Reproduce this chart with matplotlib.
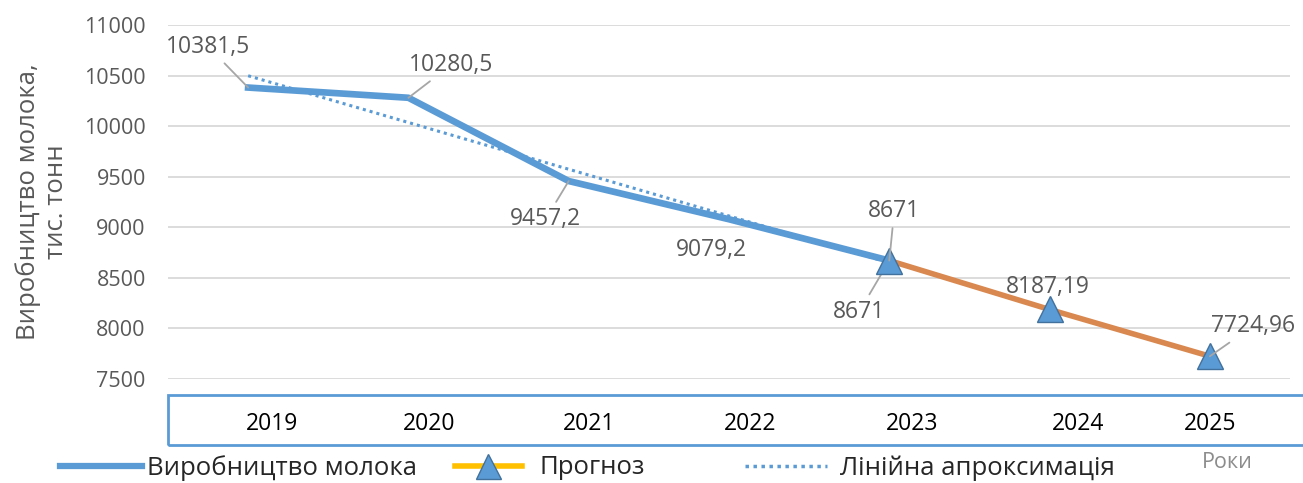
import numpy as np
import matplotlib
matplotlib.use("Agg")
import matplotlib.pyplot as plt
import matplotlib.transforms as mtransforms
from matplotlib.lines import Line2D
from matplotlib.patches import Rectangle

years = ["2019", "2020", "2021", "2022", "2023", "2024", "2025"]
actual = [10381.5, 10280.5, 9457.2, 9079.2, 8671]
forecast = [8671, 8187.19, 7724.96]
actual_labels = ["10381,5", "10280,5", "9457,2", "9079,2", "8671"]
forecast_labels = ["8671", "8187,19", "7724,96"]

BLUE = "#5B9BD5"
ORANGE = "#D9884F"
GRAY = "#595959"

plt.rcParams["font.family"] = ["Open Sans", "DejaVu Sans"]

fig = plt.figure(figsize=(13.03, 4.83), dpi=100)
ax = fig.add_axes([168 / 1303, 1 - 379 / 483, (1290 - 168) / 1303, (379 - 25) / 483])

x_act = np.arange(len(actual))
x_fc = np.arange(len(actual) - 1, len(actual) - 1 + len(forecast))

# linear trend over actual data
k, b = np.polyfit(x_act, actual, 1)
trend = k * x_act + b

ax.plot(x_act, actual, color=BLUE, lw=4.8, solid_joinstyle="round", zorder=3)
ax.plot(x_fc, forecast, color=ORANGE, lw=4, zorder=3)
ax.plot(x_act, trend, color=BLUE, lw=2.2, ls=(0, (1, 1.3)), zorder=4)
ax.plot(x_fc, forecast, ls="none", marker="^", ms=19, mfc=BLUE, mec="#41719C",
        mew=1, zorder=5)

ax.set_xlim(-0.5, len(years) - 0.5)
ax.set_ylim(7500, 11000)
ax.set_yticks(np.arange(7500, 11001, 500))
ax.grid(axis="y", color="#D9D9D9", lw=1.3)
ax.set_axisbelow(True)
for s in ax.spines.values():
    s.set_visible(False)
ax.tick_params(axis="y", length=0, pad=16, labelsize=15.5, labelcolor=GRAY)
ax.set_xticks(range(len(years)))
ax.set_xticklabels(years)
ax.tick_params(axis="x", length=0, pad=24, labelsize=16.5, labelcolor="black")
shifts = [24, 21, 20, 21, 23, 28, 0]
for lab, dx in zip(ax.get_xticklabels(), shifts):
    lab.set_transform(lab.get_transform() +
                      mtransforms.ScaledTranslation(dx / 100, 0, fig.dpi_scale_trans))

ax.set_ylabel("Виробництво молока,\nтис. тонн", fontsize=18.5, color=GRAY,
              linespacing=1.15)
ax.yaxis.set_label_coords(-0.088, 0.5)

# data labels (offsets in pixels from the point)
ann = [(-40, 41, True), (43, 33, True), (-23, -38, True), (-18, -31, False), (-30, -51, True)]
for i, (v, t, (dx, dy, lead)) in enumerate(zip(actual, actual_labels, ann)):
    ax.annotate(t, (i, v), xytext=(dx * 0.72, dy * 0.72), textcoords="offset points",
                ha="center", va="center", fontsize=16.5, color=GRAY,
                arrowprops=dict(arrowstyle="-", color="#A6A6A6", lw=1.3,
                                shrinkA=2, shrinkB=0) if lead else None)
ann_fc = [(5, 50, True), (-2, 22, False), (43, 30, True)]
for i, v, t, (dx, dy, lead) in zip(x_fc, forecast, forecast_labels, ann_fc):
    ax.annotate(t, (i, v), xytext=(dx * 0.72, dy * 0.72), textcoords="offset points",
                ha="center", va="center", fontsize=16.5, color=GRAY, zorder=6,
                arrowprops=dict(arrowstyle="-", color="#A6A6A6", lw=1.3,
                                shrinkA=2, shrinkB=0) if lead else None)

# box around the category axis
fig.patches.append(Rectangle((168 / 1303, 1 - 445 / 483), 1.2, 50 / 483,
                             transform=fig.transFigure, fill=False,
                             edgecolor=BLUE, lw=2, clip_on=False))

fig.text(1227 / 1303, 1 - 462 / 483, "Роки", fontsize=15.5, color="#8C8C8C",
         ha="center", va="center")

h1 = Line2D([], [], color=BLUE, lw=4.5)
h2 = Line2D([], [], color="#FFC000", lw=4, marker="^", ms=18, mfc=BLUE,
            mec="#41719C")
h3 = Line2D([], [], color=BLUE, lw=2.5, ls=(0, (1, 1.3)))
for h, t, xpos, hl, tp in [(h1, "Виробництво молока", 60, 3.2, 0.2),
                           (h2, "Прогноз", 455, 2.6, 0.7),
                           (h3, "Лінійна апроксимація", 745, 3.2, 0.5)]:
    fig.legend([h], [t], loc="center left", bbox_to_anchor=(xpos / 1303, 1 - 468 / 483),
               frameon=False, fontsize=18.5, handlelength=hl, handletextpad=tp,
               borderpad=0, borderaxespad=0, labelcolor="#262626")

fig.savefig("out.png", dpi=100)
